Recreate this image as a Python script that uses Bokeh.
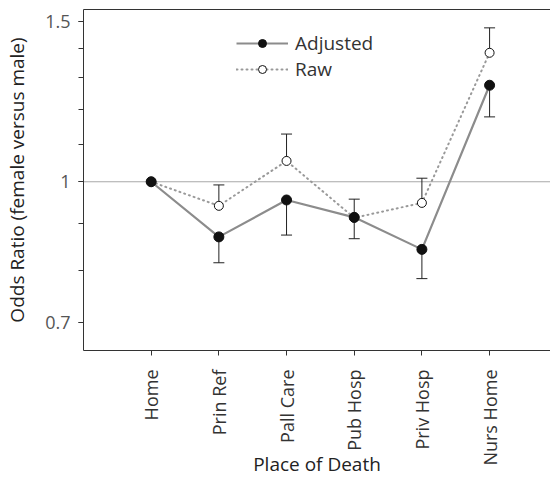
import math
from bokeh.plotting import figure
from bokeh.models import (Range1d, FixedTicker, LinearAxis, Span, Legend, LegendItem,
                          Whisker, ColumnDataSource, TeeHead)
from bokeh.embed import file_html
from bokeh.resources import INLINE

places = ["Home", "Prin Ref", "Pall Care", "Pub Hosp", "Priv Hosp", "Nurs Home"]
adjusted = [1.0, 0.870, 0.955, 0.914, 0.843, 1.276]
adjusted_lower = [1.0, 0.815, 0.874, 0.866, 0.783, 1.178]
raw = [1.0, 0.941, 1.054, 0.913, 0.948, 1.385]
raw_upper = [1.0, 0.992, 1.128, 0.957, 1.009, 1.475]
y_ticks = [0.7, 1.0, 1.5]
y_minor = [0.7, 0.8, 0.9, 1.0, 1.1, 1.2, 1.3, 1.4, 1.5]

FONT = "Open Sans"
xs = list(range(1, len(places) + 1))

p = figure(width=550, height=479, y_axis_type="log",
           x_range=Range1d(0, 6.9), y_range=Range1d(0.653, 1.545),
           output_backend="svg", toolbar_location=None,
           min_border_left=83, min_border_right=0, min_border_top=9,
           min_border_bottom=128)
p.xgrid.visible = False
p.ygrid.visible = False
p.outline_line_color = None
p.background_fill_color = "white"

# reference line at 1
p.add_layout(Span(location=1.0, dimension="width", line_color="#a8a8a8",
                  line_width=1, level="underlay"))

# error bars
src_raw = ColumnDataSource(dict(x=xs[1:], lo=raw[1:], hi=raw_upper[1:]))
src_adj = ColumnDataSource(dict(x=xs[1:], lo=adjusted_lower[1:], hi=adjusted[1:]))
p.add_layout(Whisker(source=src_raw, base="x", lower="lo", upper="hi",
                     line_color="#222222", line_width=1, level="underlay",
                     upper_head=TeeHead(size=11, line_color="#222222", line_width=1),
                     lower_head=None))
p.add_layout(Whisker(source=src_adj, base="x", lower="lo", upper="hi",
                     line_color="#222222", line_width=1, level="underlay",
                     lower_head=TeeHead(size=11, line_color="#222222", line_width=1),
                     upper_head=None))

raw_line = p.line(xs, raw, line_color="#999999", line_width=2, line_dash="1 4",
                  line_cap="round")
adj_line = p.line(xs, adjusted, line_color="#8c8c8c", line_width=2.2)
raw_pts = p.scatter(xs, raw, marker="circle", size=9, fill_color="white",
                    line_color="#111111", line_width=1)
adj_pts = p.scatter(xs, adjusted, marker="circle", size=10, fill_color="#111111",
                    line_color="#111111")

legend = Legend(items=[LegendItem(label="Adjusted", renderers=[adj_line, adj_pts]),
                       LegendItem(label="Raw", renderers=[raw_line, raw_pts])],
                location=(153, 268), glyph_width=52, glyph_height=20,
                label_height=20, spacing=-10, padding=0, margin=0,
                border_line_color=None, background_fill_alpha=0,
                label_text_font=FONT, label_text_font_size="19px",
                label_text_color="#333333", label_standoff=7)
p.add_layout(legend)

# axes
AX = "#333333"
xa = p.xaxis[0]
xa.ticker = FixedTicker(ticks=xs)
xa.major_label_overrides = {x: name for x, name in zip(xs, places)}
xa.major_label_orientation = math.pi / 2
xa.major_label_text_font = FONT
xa.major_label_text_font_size = "18px"
xa.major_label_text_color = "#333333"
xa.major_label_standoff = 14
xa.major_tick_in = 0
xa.major_tick_out = 5
xa.minor_tick_line_color = None
xa.axis_line_color = AX
xa.major_tick_line_color = AX
xa.axis_label = "Place of Death"
xa.axis_label_text_font = FONT
xa.axis_label_text_font_size = "19px"
xa.axis_label_text_font_style = "normal"
xa.axis_label_text_color = "#222222"
xa.axis_label_standoff = -18

ya = p.yaxis[0]
ya.ticker = FixedTicker(ticks=y_ticks, minor_ticks=y_minor)
ya.major_label_overrides = {0.7: "0.7", 1.0: "1", 1: "1", 1.5: "1.5"}
ya.major_label_text_font = FONT
ya.major_label_text_font_size = "18px"
ya.major_label_text_color = "#555555"
ya.major_label_standoff = 8
ya.major_tick_in = 0
ya.major_tick_out = 5
ya.minor_tick_in = 0
ya.minor_tick_out = 5
ya.axis_line_color = AX
ya.major_tick_line_color = AX
ya.minor_tick_line_color = AX
ya.axis_label = "Odds Ratio (female versus male)"
ya.axis_label_text_font = FONT
ya.axis_label_text_font_size = "19px"
ya.axis_label_text_font_style = "normal"
ya.axis_label_text_color = "#222222"
ya.axis_label_standoff = 12

top = LinearAxis(ticker=FixedTicker(ticks=[]), axis_line_color=AX,
                 major_tick_line_color=None, minor_tick_line_color=None,
                 major_label_text_font_size="0px")
p.add_layout(top, "above")

open("out.html", "w").write(file_html(p, INLINE))
